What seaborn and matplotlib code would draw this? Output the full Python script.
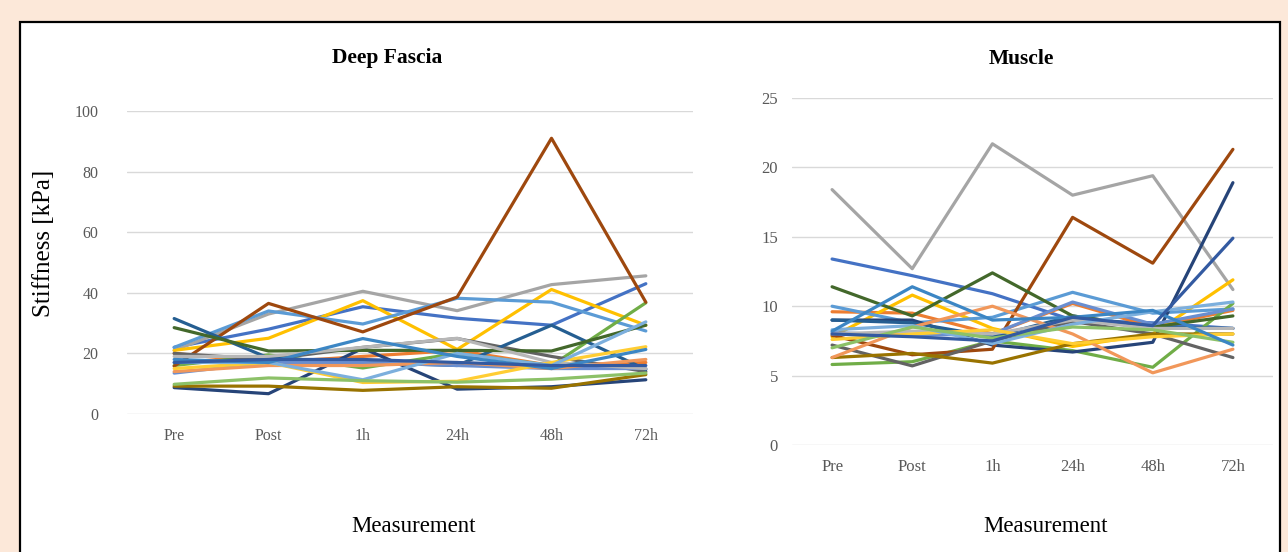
import numpy as np
import pandas as pd
import matplotlib
matplotlib.use("Agg")
import matplotlib.pyplot as plt
from matplotlib.patches import Rectangle
import seaborn as sns

# Measurement time points
times = ["Pre", "Post", "1h", "24h", "48h", "72h"]

# Deep fascia stiffness (kPa), one value per subject at each time point
fascia_pre = [22, 20, 21, 21, 22, 16, 8.7, 15.8, 20, 9.2, 31.5, 28.5, 13.5, 14, 19, 15, 17, 9.8, 18, 17]
fascia_post = [28, 17, 33, 25, 34, 19.5, 6.7, 36.5, 18, 9.2, 18.5, 20.8, 17, 16, 19, 17, 17, 11.9, 17, 18]
fascia_1h = [35.4, 19, 40.5, 37.4, 29.7, 15.2, 21.7, 27.1, 22, 7.8, 17, 21, 17, 16, 22, 10.4, 11.3, 11, 24.9, 18]
fascia_24h = [31.6, 21, 34.1, 21.3, 38.2, 20, 8.2, 38.6, 24.9, 9, 16, 21, 16, 17, 25, 10.8, 20, 10.5, 19, 17]
fascia_48h = [29.3, 16, 42.7, 41.1, 36.9, 16, 9, 91, 19, 8.5, 29.3, 20.8, 15, 15, 17, 17, 16, 11.5, 15, 16]
fascia_72h = [43, 17, 45.6, 29.3, 27.4, 36.7, 11.3, 36.9, 14, 13, 14.7, 29.3, 15, 18, 15, 22.2, 30.4, 13.5, 21.3, 16]

# Muscle stiffness (kPa), one value per subject at each time point
muscle_pre = [13.4, 9.6, 18.4, 7.8, 10.0, 5.8, 9.0, 7.9, 7.2, 6.3, 9.0, 11.4, 8.1, 6.3, 8.0, 7.6, 8.3, 7.0, 8.2, 8.0]
muscle_post = [12.2, 9.5, 12.7, 10.8, 8.8, 6.0, 9.0, 6.5, 5.7, 6.6, 8.8, 9.3, 7.9, 8.5, 8.2, 8.0, 8.6, 8.5, 11.4, 7.8]
muscle_1h = [10.9, 8.0, 21.7, 8.4, 9.2, 7.5, 7.2, 6.9, 7.5, 5.9, 7.8, 12.4, 8.0, 10.0, 8.0, 8.3, 7.3, 7.7, 9.0, 7.5]
muscle_24h = [9.0, 10.2, 18.0, 7.1, 11.0, 6.8, 6.7, 16.4, 8.9, 7.3, 9.3, 9.3, 10.3, 8.0, 9.0, 7.3, 8.7, 8.5, 9.2, 9.2]
muscle_48h = [8.8, 8.5, 19.4, 8.0, 9.5, 5.6, 7.4, 13.1, 8.0, 8.0, 8.5, 8.5, 8.7, 5.2, 8.4, 7.8, 9.6, 8.3, 9.7, 8.6]
muscle_72h = [8.4, 9.7, 11.2, 11.9, 9.8, 10.2, 18.9, 21.3, 6.3, 8.0, 8.4, 9.3, 9.8, 6.9, 8.4, 8.0, 10.3, 7.4, 7.2, 14.9]

subject_colors = ["#4472C4", "#ED7D31", "#A5A5A5", "#FFC000", "#5B9BD5", "#70AD47",
                  "#264478", "#9E480E", "#636363", "#997300", "#255E91", "#43682B",
                  "#698ED0", "#F1975A", "#B7B7B7", "#FFCD33", "#7CAFDD", "#8CC168",
                  "#3C86C4", "#335AA1"]


def long_form(columns):
    rows = []
    for t_idx, vals in enumerate(columns):
        for s_idx, v in enumerate(vals):
            rows.append({"subject": f"S{s_idx + 1}", "pos": t_idx, "time": times[t_idx], "value": v})
    return pd.DataFrame(rows)


fascia_df = long_form([fascia_pre, fascia_post, fascia_1h, fascia_24h, fascia_48h, fascia_72h])
muscle_df = long_form([muscle_pre, muscle_post, muscle_1h, muscle_24h, muscle_48h, muscle_72h])

sns.set_theme(style="white")
plt.rcParams["font.family"] = ["Liberation Serif", "DejaVu Serif"]

W, H = 1288, 552
fig = plt.figure(figsize=(W / 100, H / 100), dpi=100)
fig.patch.set_facecolor("#FCE8D9")

# white chart area with a black frame, kept behind the axes
fig.patches.append(Rectangle((20 / W, -0.05), 1260 / W, (H - 22) / H + 0.05,
                             transform=fig.transFigure, facecolor="white",
                             edgecolor="black", linewidth=1.6, zorder=-10))


def px_axes(left, right, top, bottom):
    ax = fig.add_axes([left / W, (H - bottom) / H, (right - left) / W, (bottom - top) / H])
    ax.set_zorder(5)
    return ax


ax1 = px_axes(127, 693, 111, 414)
ax2 = px_axes(792, 1273, 98, 445)

palette = dict(zip([f"S{i + 1}" for i in range(len(subject_colors))], subject_colors))

for ax, df, ymax, ystep, ypad, xpad, fs in [
    (ax1, fascia_df, 100, 20, 20.5, 10, 11.5),
    (ax2, muscle_df, 25, 5, 10, 10, 12),
]:
    sns.lineplot(data=df, x="pos", y="value", hue="subject", palette=palette,
                 units="subject", estimator=None, sort=False, legend=False,
                 linewidth=2.3, ax=ax)
    ax.set_facecolor("none")
    ax.set_xlim(-0.5, 5.5)
    ax.set_ylim(0, ymax)
    ax.set_yticks(np.arange(0, ymax + 0.1, ystep))
    ax.set_yticklabels([f"{v:g}" for v in np.arange(0, ymax + 0.1, ystep)])
    ax.set_xticks(range(len(times)))
    ax.set_xticklabels(times)
    ax.yaxis.grid(True, color="#D9D9D9", linewidth=1.0, zorder=0)
    ax.xaxis.grid(False)
    ax.set_axisbelow(True)
    for s in ax.spines.values():
        s.set_visible(False)
    ax.tick_params(axis="both", length=0, labelsize=fs, labelcolor="#595959")
    ax.tick_params(axis="y", pad=ypad)
    ax.tick_params(axis="x", pad=xpad)
    ax.set_xlabel("")
    ax.set_ylabel("")

fig.text(387 / W, 1 - 58 / H, "Deep Fascia", ha="center", va="center",
         fontsize=15.5, fontweight="bold", color="black")
fig.text(1021 / W, 1 - 59 / H, "Muscle", ha="center", va="center",
         fontsize=15.5, fontweight="bold", color="black")
fig.text(44 / W, 1 - 243 / H, "Stiffness [kPa]", ha="center", va="center",
         rotation=90, fontsize=18, color="black")
fig.text(414 / W, 1 - 527 / H, "Measurement", ha="center", va="center",
         fontsize=16.5, color="black")
fig.text(1046 / W, 1 - 527 / H, "Measurement", ha="center", va="center",
         fontsize=16.5, color="black")

fig.savefig("out.png", dpi=100, facecolor=fig.get_facecolor())
